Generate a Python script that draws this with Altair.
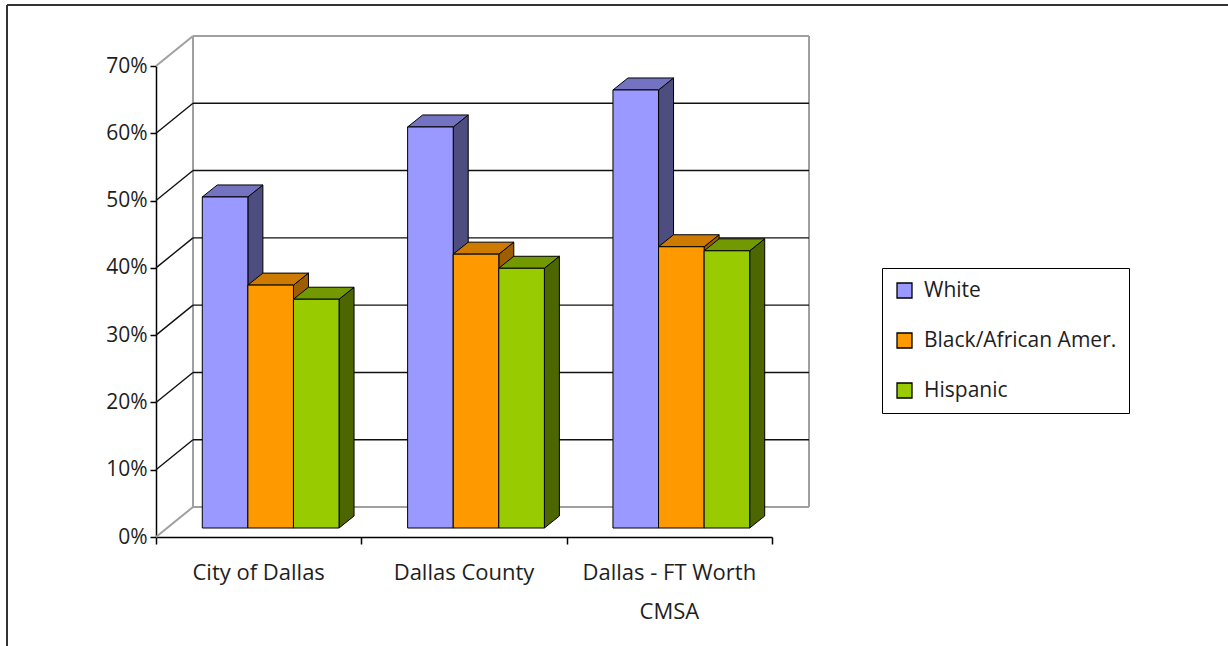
import altair as alt
import pandas as pd

# ---------------- data ----------------
categories = ["City of Dallas", "Dallas County", "Dallas - FT Worth\nCMSA"]
series = ["White", "Black/African Amer.", "Hispanic"]
white = [0.492, 0.596, 0.651]
black = [0.361, 0.407, 0.418]
hispanic = [0.340, 0.386, 0.412]
y_ticks = [0.0, 0.1, 0.2, 0.3, 0.4, 0.5, 0.6, 0.7]

# ---------------- style ----------------
front_colors = ["#9999FF", "#FF9900", "#99CC00"]
top_colors = ["#7373C2", "#CC7A00", "#739900"]
side_colors = ["#4D4D80", "#9C5E00", "#4D6600"]
FONT = "Open Sans"
FS = 21
TEXT = "#1e1e1e"

W, H = 616, 471
XMAX, YMAX = 3.0, 0.7
px_x = XMAX / W
px_y = YMAX / H
BAR_W = 0.222
shift_x, shift_y = 12 * px_x, 9 * px_y     # bars sit a little behind the front plane
depth_x, depth_y = 15 * px_x, 12 * px_y    # bar depth
wall_x, wall_y = 37 * px_x, 30 * px_y      # back wall depth

values = [white, black, hispanic]

front_rows, side_rows, top_rows = [], [], []
for i, cat in enumerate(categories):
    for j, s in enumerate(series):
        v = values[j][i]
        bid = f"{i}-{j}"
        xl = i + 0.5 + (j - 1.5) * BAR_W + shift_x
        xr = xl + BAR_W
        y0 = shift_y
        y1 = v + shift_y
        front_rows.append(dict(id=bid, series=s, xl=xl, xr=xr, y0=y0, y1=y1))
        for k in (0, 1):
            side_rows.append(dict(id=bid, color=side_colors[j], x=xr + k * depth_x,
                                  ylo=y0 + k * depth_y, yhi=y1 + k * depth_y))
            top_rows.append(dict(id=bid, color=top_colors[j], y=y1 + k * depth_y,
                                 xa=xl + k * depth_x, xb=xr + k * depth_x))

front_df = pd.DataFrame(front_rows)
side_df = pd.DataFrame(side_rows)
top_df = pd.DataFrame(top_rows)

grid_rows, edge_rows = [], []
for v in y_ticks:
    back = dict(x=wall_x, x2=XMAX + wall_x, y=v + wall_y, y2=v + wall_y)
    diag = dict(x=0.0, x2=wall_x, y=v, y2=v + wall_y)
    if v in (0.0, 0.7):
        edge_rows += [back, diag]
    else:
        grid_rows += [back, diag]
edge_rows.append(dict(x=wall_x, x2=wall_x, y=wall_y, y2=YMAX + wall_y))
edge_rows.append(dict(x=XMAX + wall_x, x2=XMAX + wall_x, y=wall_y, y2=YMAX + wall_y))
grid_df = pd.DataFrame(grid_rows)
edge_df = pd.DataFrame(edge_rows)

cat_df = pd.DataFrame({"x": [i + 0.5 for i in range(len(categories))], "label": categories})

xs = alt.Scale(domain=[0, XMAX], nice=False, zero=False)
ys = alt.Scale(domain=[0, YMAX], nice=False, zero=False)

x_axis = alt.Axis(values=[0, 1, 2, 3], labels=False, grid=False, title=None,
                  domainColor="black", domainWidth=1.5, tickColor="black",
                  tickWidth=1.5, tickSize=7)
y_axis = alt.Axis(values=y_ticks, format=".0%", grid=False, title=None,
                  domainColor="black", domainWidth=1.5, tickColor="black",
                  tickWidth=1.5, tickSize=6, labelFont=FONT, labelFontSize=FS,
                  labelColor=TEXT, labelPadding=3)


def X(field, **kw):
    return alt.X(field, scale=xs, axis=x_axis, title=None, **kw)


def Y(field, **kw):
    return alt.Y(field, scale=ys, axis=y_axis, title=None, **kw)


grid = alt.Chart(grid_df).mark_rule(color="#111111", strokeWidth=1.4).encode(
    x=X("x:Q"), x2="x2:Q", y=Y("y:Q"), y2="y2:Q")
edges = alt.Chart(edge_df).mark_rule(color="#a0a0a0", strokeWidth=2).encode(
    x=X("x:Q"), x2="x2:Q", y=Y("y:Q"), y2="y2:Q")

sides = alt.Chart(side_df).mark_area(stroke="black", strokeWidth=1, opacity=1).encode(
    x=X("x:Q"),
    y=Y("yhi:Q", stack=None), y2="ylo:Q",
    detail="id:N",
    color=alt.Color("color:N", scale=None))

tops = alt.Chart(top_df).mark_area(orient="horizontal", stroke="black", strokeWidth=1, opacity=1).encode(
    y=Y("y:Q"),
    x=X("xa:Q", stack=None), x2="xb:Q",
    detail="id:N",
    color=alt.Color("color:N", scale=None))

fronts = alt.Chart(front_df).mark_bar(stroke="black", strokeWidth=1, opacity=1).encode(
    x=X("xl:Q"), x2="xr:Q",
    y=Y("y1:Q"), y2="y0:Q",
    color=alt.Color("series:N", scale=alt.Scale(domain=series, range=front_colors),
                    sort=series,
                    legend=alt.Legend(title=None, orient="none", legendX=726, legendY=202,
                                      symbolType="square", symbolSize=225,
                                      symbolStrokeColor="black", symbolStrokeWidth=1.3,
                                      labelFont=FONT, labelFontSize=21, labelColor=TEXT,
                                      labelLimit=0, labelOffset=9, rowPadding=28,
                                      padding=12, strokeColor="black", fillColor="white")),
)

cat_labels = alt.Chart(cat_df).mark_text(
    font=FONT, fontSize=22, color=TEXT, align="center", baseline="alphabetic",
    lineBreak="\n", lineHeight=39).encode(
    x=X("x:Q"),
    y=alt.value(H + 43),
    text="label:N")

one = pd.DataFrame({"a": [0]})
frame_left = alt.Chart(one).mark_rule(color="#333333", strokeWidth=2).encode(
    x=alt.value(-149), y=alt.value(-61), y2=alt.value(600))
frame_top = alt.Chart(one).mark_rule(color="#333333", strokeWidth=2).encode(
    x=alt.value(-149), x2=alt.value(1100), y=alt.value(-61))

chart = alt.layer(
    frame_left, frame_top, edges, grid, sides, tops, fronts, cat_labels
).properties(
    width=W, height=H,
    padding={"left": 156, "top": 66, "right": 456, "bottom": 109},
    autosize=alt.AutoSizeParams(type="none"),
    background="white",
).configure_view(stroke=None)

chart.save("out.html", embed_options={"renderer": "svg", "actions": False})
